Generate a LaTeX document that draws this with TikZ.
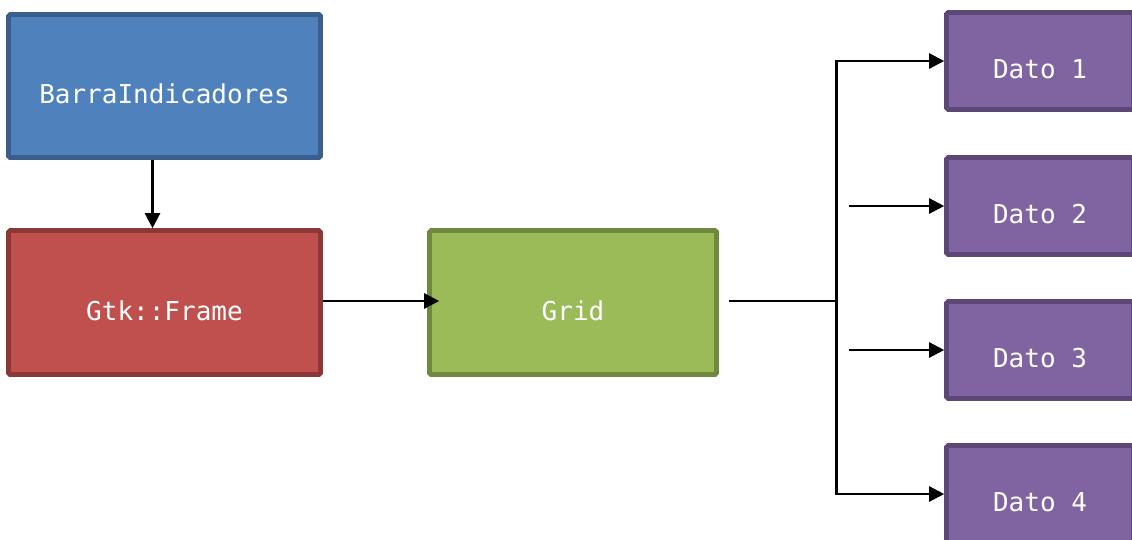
\documentclass[tikz,border=0pt]{standalone}
\usepackage{fontspec}
\setmonofont{DejaVu Sans Mono}
\usetikzlibrary{arrows.meta}
\definecolor{blueF}{HTML}{4F81BD}\definecolor{blueD}{HTML}{3A5F8C}
\definecolor{redF}{HTML}{C0504D}\definecolor{redD}{HTML}{8C3836}
\definecolor{greenF}{HTML}{9BBB59}\definecolor{greenD}{HTML}{71893F}
\definecolor{purpF}{HTML}{8064A2}\definecolor{purpD}{HTML}{5C4776}
\tikzset{
  box/.style={rectangle, line width=4.6pt, rounded corners=1.5pt, inner sep=0pt,
    text=white, font=\ttfamily\fontsize{26}{30}\selectfont,
    text height=35pt, text depth=0pt},
  bluebox/.style={box, draw=blueD, fill=blueF},
  redbox/.style={box, draw=redD, fill=redF},
  greenbox/.style={box, draw=greenD, fill=greenF},
  datobox/.style={box, draw=purpD, fill=purpF, minimum width=187pt, minimum height=97pt},
  conn/.style={line width=2.4pt, black},
  arr/.style={conn, -{Triangle[length=15pt,width=15pt]}}
}
\begin{document}
\begin{tikzpicture}[x=1pt,y=-1pt]
\useasboundingbox (0,0) rectangle (1132,539);
\clip (0,0) rectangle (1132,539);
\fill[white] (0,0) rectangle (1132,539);

% component boxes
\node[bluebox, minimum width=312pt, minimum height=143pt] (bi) at (164.5,86) {BarraIndicadores};
\node[redbox, minimum width=312pt, minimum height=144pt] (fr) at (164.5,302.5) {Gtk::Frame};
\node[greenbox, minimum width=287pt, minimum height=144pt] (gr) at (573,302.5) {Grid};
\node[datobox] (d1) at (1040,61) {Dato 1};
\node[datobox] (d2) at (1040,206) {Dato 2};
\node[datobox] (d3) at (1040,350) {Dato 3};
\node[datobox] (d4) at (1040,494) {Dato 4};

% bus points
\coordinate (jn) at (836.5,301);
\coordinate (top) at (836.5,61);
\coordinate (bot) at (836.5,494);
\coordinate (s2) at (849,206);
\coordinate (s3) at (849,350);

% connectors
\draw[arr] ([xshift=-12pt]bi.south) -- ([xshift=-12pt]fr.north);
\draw[arr, shorten >=-12pt] (fr.east |- jn) -- (gr.west |- jn);
\draw[conn, shorten <=10pt] (gr.east |- jn) -- (jn);
\draw[conn, line cap=rect] (top) -- (bot);
\draw[arr] (top) -- (d1.west);
\draw[arr] (s2) -- (d2.west);
\draw[arr] (s3) -- (d3.west);
\draw[arr] (bot) -- (d4.west);
\end{tikzpicture}
\end{document}
